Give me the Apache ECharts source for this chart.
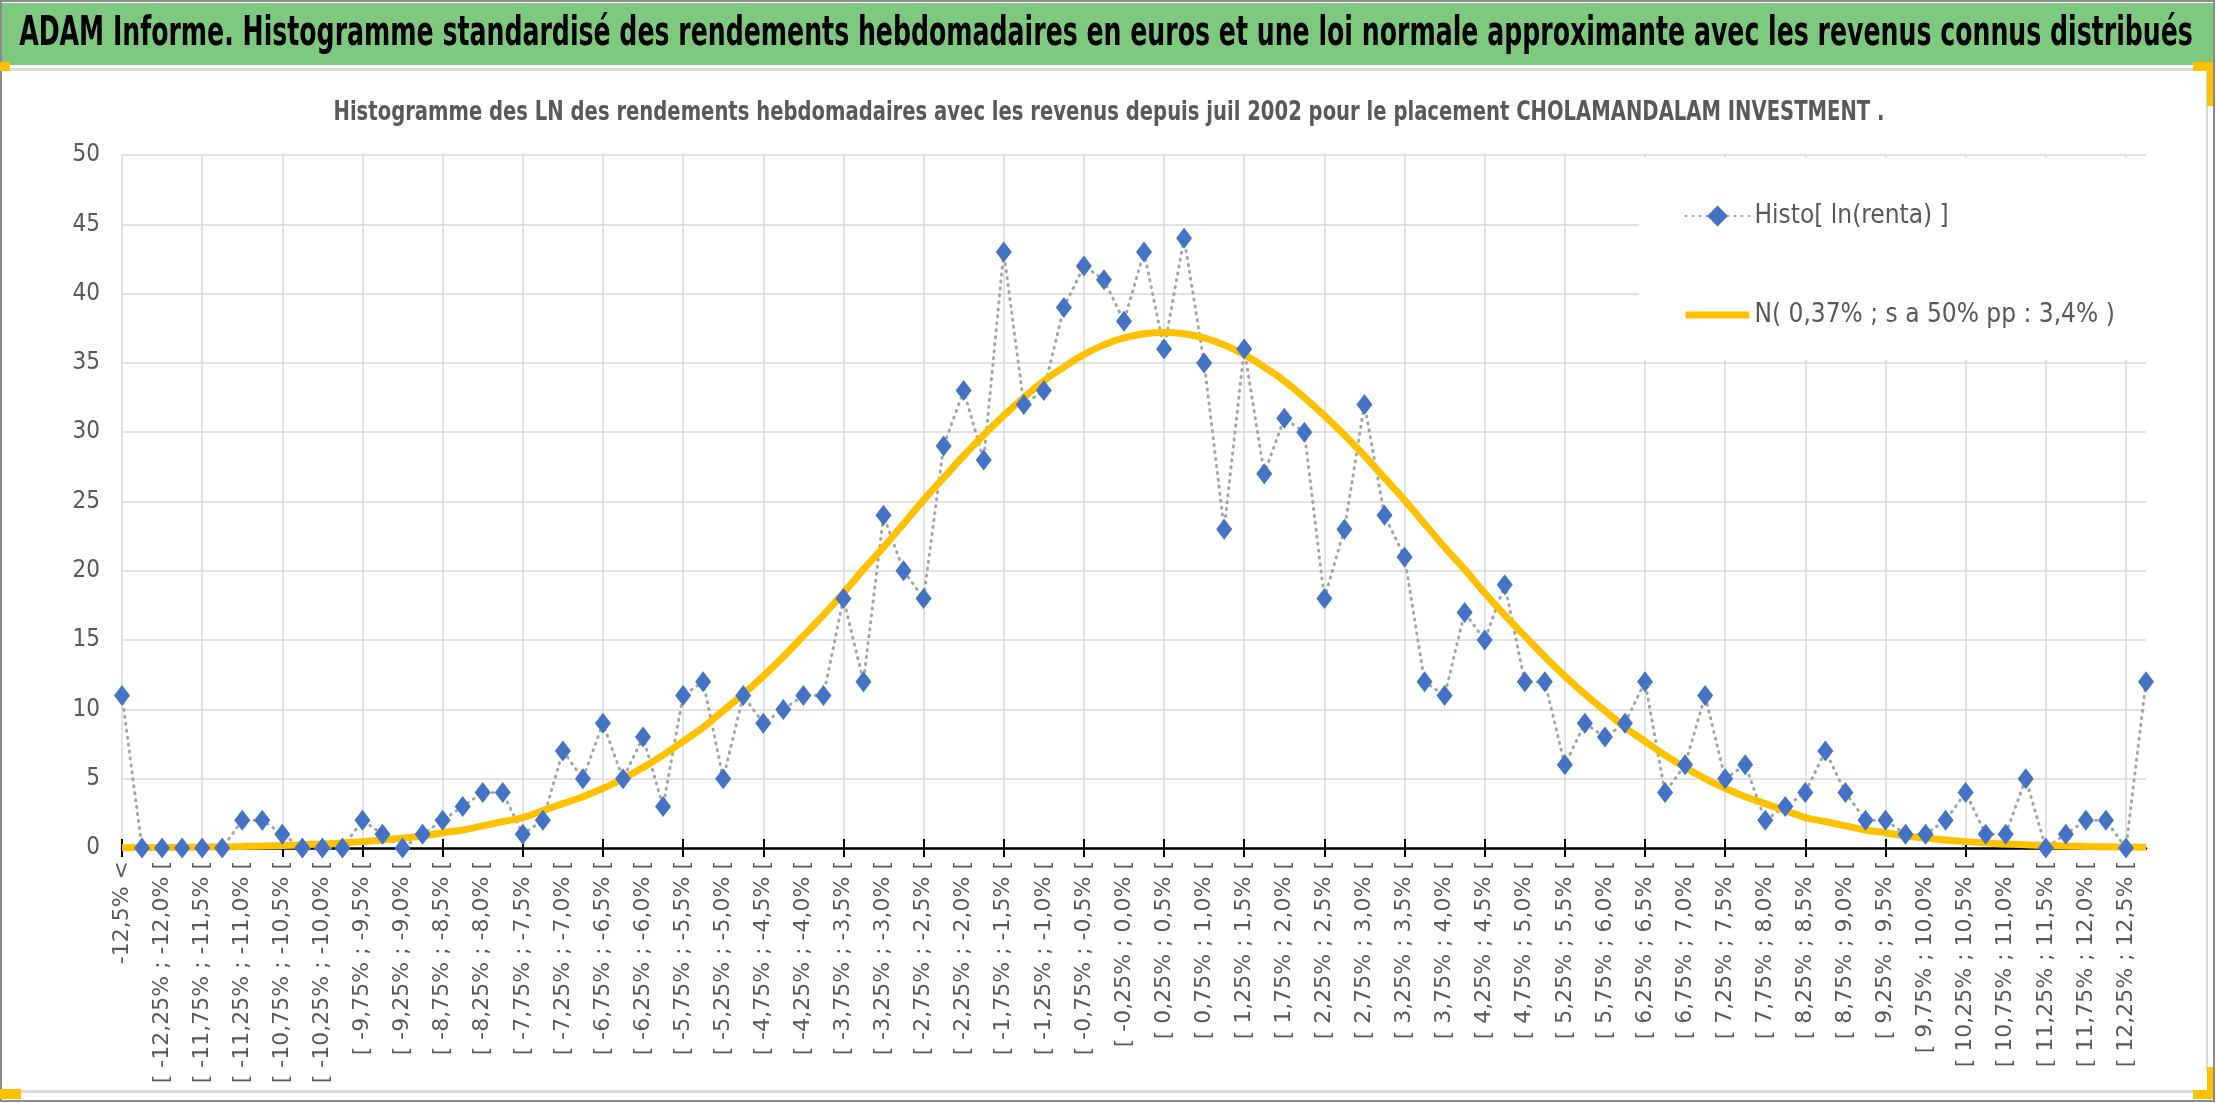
<!DOCTYPE html>
<html>
<head>
<meta charset="utf-8">
<title>Histogramme CHOLAMANDALAM INVESTMENT</title>
<script src="https://cdn.jsdelivr.net/npm/echarts@6/dist/echarts.min.js"></script>
<style>
  html, body { margin: 0; padding: 0; background: #fff; }
  #chart { width: 2216px; height: 1103px; }
</style>
</head>
<body>
<div id="chart"></div>
<script>
const mainTitle = "ADAM Informe. Histogramme standardisé des rendements hebdomadaires en euros et une loi normale approximante avec les revenus connus distribués";
const subTitle = "Histogramme des LN des rendements hebdomadaires avec les revenus depuis juil 2002 pour le placement CHOLAMANDALAM INVESTMENT .";
const seriesNames = ["Histo[ ln(renta) ]", "N( 0,37% ; s a 50% pp : 3,4% )"];

// classes de rendement (une sur deux est affichée)
const bins = [
  "-12,5% <",
  "[ -12,5% ; -12,25% [", "[ -12,25% ; -12,0% [", "[ -12,0% ; -11,75% [", "[ -11,75% ; -11,5% [",
  "[ -11,5% ; -11,25% [", "[ -11,25% ; -11,0% [", "[ -11,0% ; -10,75% [", "[ -10,75% ; -10,5% [",
  "[ -10,5% ; -10,25% [", "[ -10,25% ; -10,0% [", "[ -10,0% ; -9,75% [", "[ -9,75% ; -9,5% [",
  "[ -9,5% ; -9,25% [", "[ -9,25% ; -9,0% [", "[ -9,0% ; -8,75% [", "[ -8,75% ; -8,5% [",
  "[ -8,5% ; -8,25% [", "[ -8,25% ; -8,0% [", "[ -8,0% ; -7,75% [", "[ -7,75% ; -7,5% [",
  "[ -7,5% ; -7,25% [", "[ -7,25% ; -7,0% [", "[ -7,0% ; -6,75% [", "[ -6,75% ; -6,5% [",
  "[ -6,5% ; -6,25% [", "[ -6,25% ; -6,0% [", "[ -6,0% ; -5,75% [", "[ -5,75% ; -5,5% [",
  "[ -5,5% ; -5,25% [", "[ -5,25% ; -5,0% [", "[ -5,0% ; -4,75% [", "[ -4,75% ; -4,5% [",
  "[ -4,5% ; -4,25% [", "[ -4,25% ; -4,0% [", "[ -4,0% ; -3,75% [", "[ -3,75% ; -3,5% [",
  "[ -3,5% ; -3,25% [", "[ -3,25% ; -3,0% [", "[ -3,0% ; -2,75% [", "[ -2,75% ; -2,5% [",
  "[ -2,5% ; -2,25% [", "[ -2,25% ; -2,0% [", "[ -2,0% ; -1,75% [", "[ -1,75% ; -1,5% [",
  "[ -1,5% ; -1,25% [", "[ -1,25% ; -1,0% [", "[ -1,0% ; -0,75% [", "[ -0,75% ; -0,5% [",
  "[ -0,5% ; -0,25% [", "[ -0,25% ; 0,0% [", "[ 0,0% ; 0,25% [", "[ 0,25% ; 0,5% [",
  "[ 0,5% ; 0,75% [", "[ 0,75% ; 1,0% [", "[ 1,0% ; 1,25% [", "[ 1,25% ; 1,5% [",
  "[ 1,5% ; 1,75% [", "[ 1,75% ; 2,0% [", "[ 2,0% ; 2,25% [", "[ 2,25% ; 2,5% [",
  "[ 2,5% ; 2,75% [", "[ 2,75% ; 3,0% [", "[ 3,0% ; 3,25% [", "[ 3,25% ; 3,5% [",
  "[ 3,5% ; 3,75% [", "[ 3,75% ; 4,0% [", "[ 4,0% ; 4,25% [", "[ 4,25% ; 4,5% [",
  "[ 4,5% ; 4,75% [", "[ 4,75% ; 5,0% [", "[ 5,0% ; 5,25% [", "[ 5,25% ; 5,5% [",
  "[ 5,5% ; 5,75% [", "[ 5,75% ; 6,0% [", "[ 6,0% ; 6,25% [", "[ 6,25% ; 6,5% [",
  "[ 6,5% ; 6,75% [", "[ 6,75% ; 7,0% [", "[ 7,0% ; 7,25% [", "[ 7,25% ; 7,5% [",
  "[ 7,5% ; 7,75% [", "[ 7,75% ; 8,0% [", "[ 8,0% ; 8,25% [", "[ 8,25% ; 8,5% [",
  "[ 8,5% ; 8,75% [", "[ 8,75% ; 9,0% [", "[ 9,0% ; 9,25% [", "[ 9,25% ; 9,5% [",
  "[ 9,5% ; 9,75% [", "[ 9,75% ; 10,0% [", "[ 10,0% ; 10,25% [", "[ 10,25% ; 10,5% [",
  "[ 10,5% ; 10,75% [", "[ 10,75% ; 11,0% [", "[ 11,0% ; 11,25% [", "[ 11,25% ; 11,5% [",
  "[ 11,5% ; 11,75% [", "[ 11,75% ; 12,0% [", "[ 12,0% ; 12,25% [", "[ 12,25% ; 12,5% [",
  "12,5% <="
];

// effectifs par classe
const histo = [
  11, 0, 0, 0, 0, 0, 2, 2, 1, 0, 0, 0, 2, 1, 0, 1, 2, 3, 4, 4,
  1, 2, 7, 5, 9, 5, 8, 3, 11, 12, 5, 11, 9, 10, 11, 11, 18, 12, 24, 20,
  18, 29, 33, 28, 43, 32, 33, 39, 42, 41, 38, 43, 36, 44, 35, 23, 36, 27, 31, 30,
  18, 23, 32, 24, 21, 12, 11, 17, 15, 19, 12, 12, 6, 9, 8, 9, 12, 4, 6, 11,
  5, 6, 2, 3, 4, 7, 4, 2, 2, 1, 1, 2, 4, 1, 1, 5, 0, 1, 2, 2,
  0, 12
];

// loi normale approximante
const normale = [
  0.02, 0.03, 0.04, 0.05, 0.07, 0.09, 0.11, 0.14, 0.18, 0.23,
  0.29, 0.37, 0.46, 0.57, 0.71, 0.87, 1.1, 1.3, 1.6, 1.9,
  2.2, 2.7, 3.2, 3.7, 4.3, 5.0, 5.8, 6.7, 7.7, 8.7,
  9.9, 11.1, 12.4, 13.8, 15.3, 16.8, 18.4, 20.1, 21.7, 23.4,
  25.1, 26.7, 28.3, 29.8, 31.2, 32.5, 33.7, 34.7, 35.6, 36.3,
  36.8, 37.1, 37.2, 37.1, 36.8, 36.3, 35.6, 34.7, 33.7, 32.5,
  31.2, 29.8, 28.3, 26.7, 25.1, 23.4, 21.7, 20.1, 18.4, 16.8,
  15.3, 13.8, 12.4, 11.1, 9.9, 8.7, 7.7, 6.7, 5.8, 5.0,
  4.3, 3.7, 3.2, 2.7, 2.2, 1.9, 1.6, 1.3, 1.1, 0.87,
  0.71, 0.57, 0.46, 0.37, 0.29, 0.23, 0.18, 0.14, 0.11, 0.09,
  0.07, 0.05
];

const narrow = "'Liberation Sans Narrow', 'DejaVu Sans Condensed', sans-serif";
const gray = "#595959";
const orange = "#ffc000";

const chart = echarts.init(document.getElementById("chart"));

const box = (x, y, width, height, fill) => ({
  type: "rect", z: 1, silent: true, shape: { x, y, width, height }, style: { fill },
});

chart.setOption({
  backgroundColor: "#fff",
  animation: false,
  graphic: [
    { type: "rect", z: 1, silent: true, shape: { x: 1, y: 1, width: 2213, height: 1100 }, style: { fill: "none", stroke: "#8c8c8c", lineWidth: 2 } },
    box(2, 3, 2211, 62, "#7ec87f"),
    box(10, 68, 2198, 3, "#d9d9d9"),
    box(21, 1090, 2176, 3, "#d9d9d9"),
    box(2206, 71, 2, 1000, "#d9d9d9"),
    box(0, 62, 10, 9, orange),
    box(2193, 62, 20, 9, orange),
    box(2207, 62, 6, 44, orange),
    box(0, 1089, 21, 10, orange),
    box(2207, 1067, 6, 32, orange),
    box(2193, 1090, 20, 9, orange),
    {
      type: "text", z: 2, silent: true, x: 1106, y: 35, scaleX: 0.7,
      style: {
        text: mainTitle, textAlign: "center", textVerticalAlign: "middle",
        font: "bold 40px " + narrow, fill: "#000",
      },
    },
    {
      type: "text", z: 2, silent: true, x: 1109, y: 113, scaleX: 0.807,
      style: {
        text: subTitle, textAlign: "center", textVerticalAlign: "middle",
        font: "bold 27px " + narrow, fill: gray,
      },
    },
    // fond blanc de la légende, par-dessus le quadrillage
    { type: "rect", z: 3, silent: true, shape: { x: 1639, y: 158, width: 509, height: 202 }, style: { fill: "#fff" } },
  ],
  legend: {
    orient: "vertical",
    left: 1677,
    top: 196,
    itemWidth: 64,
    itemHeight: 26,
    itemGap: 69,
    data: [
      { name: seriesNames[0] },
      { name: seriesNames[1], itemStyle: { opacity: 0 }, lineStyle: { width: 7 } },
    ],
    textStyle: { fontFamily: narrow, fontSize: 26, color: gray, lineHeight: 30 },
  },
  grid: { left: 122, right: 70, top: 155, bottom: 255 },
  xAxis: [
    {
      type: "category",
      data: bins,
      boundaryGap: false,
      axisLine: { lineStyle: { color: "#000", width: 2.5 } },
      axisTick: { interval: 3, length: 9, lineStyle: { color: "#000", width: 2 } },
      splitLine: { show: true, interval: 3, lineStyle: { color: "#d9d9d9", width: 1.5 } },
      axisLabel: {
        interval: 1,
        rotate: 90,
        margin: 13,
        fontFamily: "'DejaVu Sans', sans-serif",
        fontSize: 22,
        color: gray,
      },
    },
    {
      // demi-graduations au-dessus de l'axe (graduations croisées)
      type: "category",
      data: bins,
      boundaryGap: false,
      position: "bottom",
      axisLine: { show: false },
      axisTick: { inside: true, interval: 3, length: 9, lineStyle: { color: "#000", width: 2 } },
      axisLabel: { show: false },
      splitLine: { show: false },
    },
  ],
  yAxis: {
    type: "value",
    min: 0,
    max: 50,
    interval: 5,
    axisLine: { show: false },
    axisTick: { show: false },
    splitLine: { lineStyle: { color: "#d9d9d9", width: 1.5 } },
    axisLabel: { margin: 22, fontFamily: narrow, fontSize: 24, color: gray },
  },
  series: [
    {
      name: seriesNames[0],
      type: "line",
      data: histo,
      symbol: "diamond",
      symbolSize: [16, 21],
      showAllSymbol: true,
      itemStyle: { color: "#4472c4" },
      lineStyle: { color: "#a5a5a5", width: 3, type: [1, 6], cap: "round" },
    },
    {
      name: seriesNames[1],
      type: "line",
      data: normale,
      smooth: true,
      symbol: "none",
      itemStyle: { color: orange },
      lineStyle: { color: orange, width: 7 },
    },
  ],
});
</script>
</body>
</html>
